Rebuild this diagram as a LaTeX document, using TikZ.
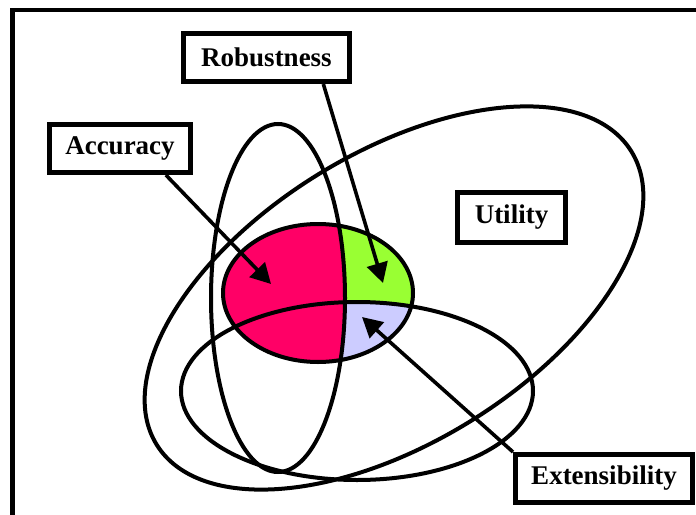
\documentclass[tikz,border=0pt]{standalone}
\usepackage{fontspec}
\setmainfont{Liberation Serif}
\usepackage{xcolor}
\usetikzlibrary{arrows.meta, calc, positioning}
\definecolor{accpink}{HTML}{FF0066}
\definecolor{robgreen}{HTML}{99FF33}
\definecolor{extlav}{HTML}{CCCCFF}

\begin{document}
\begin{tikzpicture}[
  x=0.5pt, y=-0.5pt,
  >={Triangle[length=10pt,width=10.5pt]},
  lbl/.style={draw, line width=2.3pt, fill=white, minimum height=24.2pt,
              inner sep=0pt, font=\fontsize{13.5}{16}\selectfont\bfseries},
  setline/.style={line width=2pt},
  arr/.style={->, line width=1.8pt},
]
\useasboundingbox (0,0) rectangle (696,514);
% Outer frame
\draw[line width=2.3pt] (12.5,10) rectangle (720,540);
% Coloured core, split by the sets
\fill[robgreen] (318,293) ellipse [x radius=95, y radius=69];
\begin{scope}
  \clip (357,391) ellipse [x radius=176, y radius=89];
  \fill[extlav] (318,293) ellipse [x radius=95, y radius=69];
\end{scope}
\begin{scope}
  \clip (278,298) ellipse [x radius=67, y radius=174];
  \fill[accpink] (318,293) ellipse [x radius=95, y radius=69];
\end{scope}
% Set outlines
\draw[setline] (318,293) ellipse [x radius=95, y radius=69];
\draw[setline] (278,298) ellipse [x radius=67, y radius=174];
\draw[setline] (357,391) ellipse [x radius=176, y radius=89];
\draw[setline, rotate around={31.7:(394,298)}] (394,298) ellipse [x radius=279, y radius=145];
% Labels
\node[lbl, minimum width=83pt]  (rob)  at (266.5,57.5)  {Robustness};
\node[lbl, minimum width=70.7pt] (acc) at (120,148.5)   {Accuracy};
\node[lbl, minimum width=54.2pt, minimum height=25.2pt] (util) at (511.5,217.5) {Utility};
\node[lbl, minimum width=88.7pt] (ext) at (604,478.5)   {Extensibility};
% Arrow targets
\coordinate (accT) at (271,284);
\coordinate (robT) at (383,283);
\coordinate (extT) at (362,317);
% Arrows
\draw[arr] (acc.-30) -- (accT);
\draw[arr] (rob.-25) -- (robT);
\draw[arr] (ext.north west) -- (extT);
\end{tikzpicture}
\end{document}
